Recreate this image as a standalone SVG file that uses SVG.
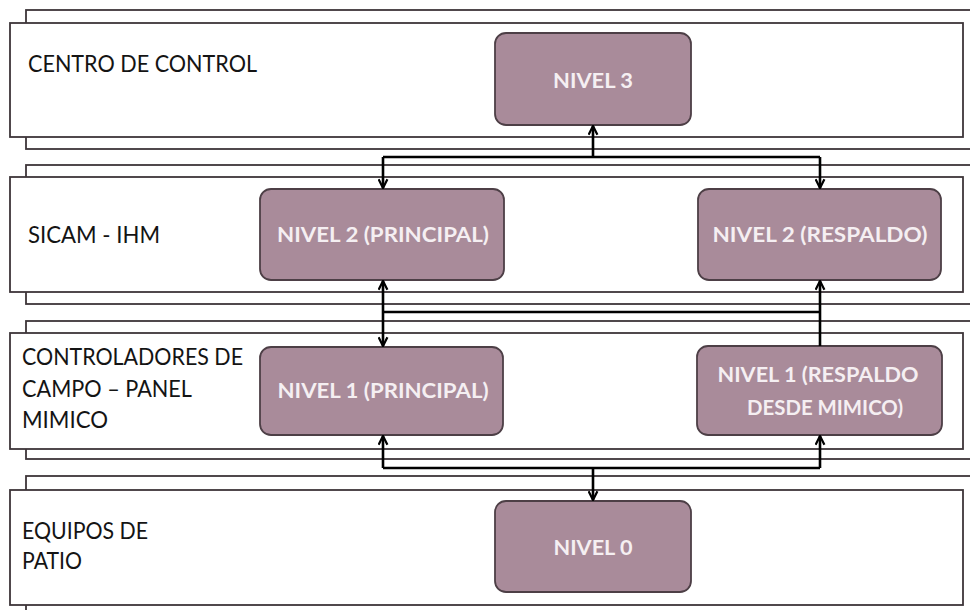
<svg xmlns="http://www.w3.org/2000/svg" width="970" height="610" viewBox="0 0 970 610">
<style>
  .back { fill: #ffffff; stroke: #3d3539; stroke-width: 1.8; }
  .front { fill: #ffffff; stroke: #3d3539; stroke-width: 1.8; }
  .node { fill: #a98b9a; stroke: #4d3f46; stroke-width: 1.8; }
  .lbl { font-family: Lato, "Liberation Sans", sans-serif; font-size: 24px; fill: #141414; }
  .ntxt { font-family: Lato, "Liberation Sans", sans-serif; font-size: 20px; font-weight: bold; fill: #f5eff2; text-anchor: middle; }
  .conn { fill: none; stroke: #000000; stroke-width: 2.6; }
</style>
<defs>
  <marker id="arr" viewBox="0 0 10 10" refX="9" refY="5" markerWidth="11" markerHeight="11" markerUnits="userSpaceOnUse" orient="auto">
    <path d="M1,1 L9,5 L1,9" fill="none" stroke="#000" stroke-width="2"/>
  </marker>
</defs>

<g id="layer-centro">
  <rect class="back" x="26" y="10" width="960" height="139"/>
  <rect class="front" x="10" y="23" width="953" height="114"/>
  <text class="lbl" x="28" y="72" textLength="229" lengthAdjust="spacingAndGlyphs">CENTRO DE CONTROL</text>
</g>
<g id="layer-sicam">
  <rect class="back" x="26" y="165" width="960" height="139"/>
  <rect class="front" x="10" y="177" width="953" height="115"/>
  <text class="lbl" x="28" y="243" textLength="132" lengthAdjust="spacingAndGlyphs">SICAM - IHM</text>
</g>
<g id="layer-controladores">
  <rect class="back" x="26" y="321" width="960" height="138"/>
  <rect class="front" x="10" y="333" width="953" height="116"/>
  <text class="lbl" x="22" y="365" textLength="221" lengthAdjust="spacingAndGlyphs">CONTROLADORES DE</text>
  <text class="lbl" x="22" y="397" textLength="170" lengthAdjust="spacingAndGlyphs">CAMPO – PANEL</text>
  <text class="lbl" x="22" y="428" textLength="86" lengthAdjust="spacingAndGlyphs">MIMICO</text>
</g>
<g id="layer-equipos">
  <rect class="back" x="26" y="476" width="960" height="150"/>
  <rect class="front" x="10" y="490" width="953" height="115"/>
  <text class="lbl" x="22" y="539" textLength="126" lengthAdjust="spacingAndGlyphs">EQUIPOS DE</text>
  <text class="lbl" x="22" y="569" textLength="60" lengthAdjust="spacingAndGlyphs">PATIO</text>
</g>

<g id="nivel3">
  <rect class="node" x="495" y="33" width="196" height="92" rx="11"/>
  <text class="ntxt" x="593" y="88" textLength="80" lengthAdjust="spacingAndGlyphs">NIVEL 3</text>
</g>
<g id="nivel2-principal">
  <rect class="node" x="260" y="189" width="244" height="91" rx="11"/>
  <text class="ntxt" x="383" y="242" textLength="212" lengthAdjust="spacingAndGlyphs">NIVEL 2 (PRINCIPAL)</text>
</g>
<g id="nivel2-respaldo">
  <rect class="node" x="698" y="189" width="243" height="91" rx="11"/>
  <text class="ntxt" x="820" y="242" textLength="215" lengthAdjust="spacingAndGlyphs">NIVEL 2 (RESPALDO)</text>
</g>
<g id="nivel1-principal">
  <rect class="node" x="260" y="347" width="243" height="88" rx="11"/>
  <text class="ntxt" x="383" y="398" textLength="211" lengthAdjust="spacingAndGlyphs">NIVEL 1 (PRINCIPAL)</text>
</g>
<g id="nivel1-respaldo">
  <rect class="node" x="697" y="346" width="245" height="89" rx="11"/>
  <text class="ntxt" x="818" y="382" textLength="201" lengthAdjust="spacingAndGlyphs">NIVEL 1 (RESPALDO</text>
  <text class="ntxt" x="825" y="415" textLength="156" lengthAdjust="spacingAndGlyphs">DESDE MIMICO)</text>
</g>
<g id="nivel0">
  <rect class="node" x="495" y="501" width="196" height="91" rx="11"/>
  <text class="ntxt" x="593" y="555" textLength="79" lengthAdjust="spacingAndGlyphs">NIVEL 0</text>
</g>

<g id="connectors">
  <path class="conn" d="M383,157 H820"/>
  <path class="conn" d="M593,157 V126" marker-end="url(#arr)"/>
  <path class="conn" d="M383,157 V188" marker-end="url(#arr)"/>
  <path class="conn" d="M820,157 V188" marker-end="url(#arr)"/>

  <path class="conn" d="M383,312 H820"/>
  <path class="conn" d="M383,312 V281" marker-end="url(#arr)"/>
  <path class="conn" d="M383,312 V346" marker-end="url(#arr)"/>
  <path class="conn" d="M820,312 V281" marker-end="url(#arr)"/>
  <path class="conn" d="M820,312 V346"/>

  <path class="conn" d="M383,468 H820"/>
  <path class="conn" d="M383,468 V436" marker-end="url(#arr)"/>
  <path class="conn" d="M820,468 V436" marker-end="url(#arr)"/>
  <path class="conn" d="M593,468 V500" marker-end="url(#arr)"/>
</g>
</svg>
